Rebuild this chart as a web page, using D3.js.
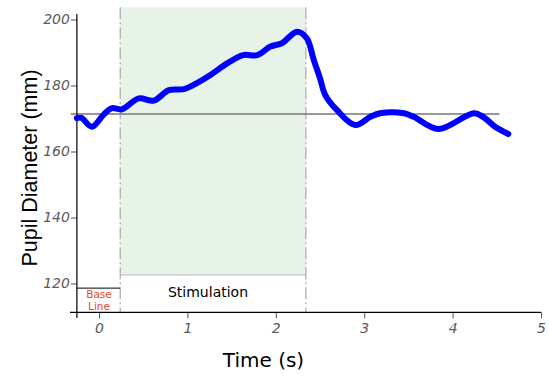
<!DOCTYPE html>
<html>
<head>
<meta charset="utf-8">
<script src="https://cdn.jsdelivr.net/npm/d3@7"></script>
<style>
  body { margin: 0; background: #fff; }
  .tick text { font-family: "DejaVu Sans", sans-serif; font-style: italic; fill: #5a5a5a; font-size: 14px; }
</style>
</head>
<body>
<div class="container"></div>
<script>
// pupil trace (time in s, diameter in mm)
var times = [-0.25, -0.2, -0.08, 0.05, 0.14, 0.26, 0.45, 0.62, 0.79, 0.96, 1.07, 1.26, 1.45, 1.63, 1.79, 1.94, 2.07, 2.24, 2.35, 2.43, 2.5, 2.56, 2.69, 2.9, 3.07, 3.18, 3.45, 3.56, 3.84, 4.24, 4.35, 4.48, 4.63];
var diameters = [170.1, 170.2, 167.5, 171.1, 173.1, 172.8, 176.1, 175.4, 178.6, 178.9, 180.2, 183.2, 186.7, 189.2, 189.2, 191.8, 192.8, 196.3, 194.3, 187.7, 182.2, 177.1, 172.6, 168.0, 170.5, 171.6, 171.6, 170.5, 166.8, 171.6, 170.4, 167.5, 165.3];

var xTicks = [0, 1, 2, 3, 4, 5];
var yTicks = [120, 140, 160, 180, 200];

var baselineMean = 171.4;
var baselineSpan = [-0.32, 4.53];
var stimSpan = [0.24, 2.34];
var baseBoxSpan = [-0.25, 0.24];

var width = 549, height = 378;

var x = d3.scaleLinear().domain([0, 5]).range([99, 541]);
var y = d3.scaleLinear().domain([120, 200]).range([283.5, 19.5]);

var axisY = 312.3;  // x-axis position (pixels)
var axisX = x(-0.25);

var svg = d3.select(".container")
    .append("svg")
    .attr("width", width)
    .attr("height", height);

// stimulation shading
svg.append("rect")
    .attr("x", x(stimSpan[0]))
    .attr("y", y(203.7))
    .attr("width", x(stimSpan[1]) - x(stimSpan[0]))
    .attr("height", y(122.6) - y(203.7))
    .attr("fill", "#e8f3e7");

// stimulation label box
svg.append("line")
    .attr("x1", x(stimSpan[0])).attr("x2", x(stimSpan[1]))
    .attr("y1", y(122.6)).attr("y2", y(122.6))
    .attr("stroke", "#bbb").attr("stroke-width", 1);

svg.selectAll(".stim-edge")
    .data(stimSpan)
    .enter().append("line")
    .attr("class", "stim-edge")
    .attr("x1", function(d) { return x(d); })
    .attr("x2", function(d) { return x(d); })
    .attr("y1", y(203.7))
    .attr("y2", axisY)
    .attr("stroke", "#aaa")
    .attr("stroke-width", 1.2)
    .attr("stroke-dasharray", "12,3,2,3");

svg.append("text")
    .attr("x", 208)
    .attr("y", 297)
    .attr("text-anchor", "middle")
    .style("font-family", "DejaVu Sans, sans-serif")
    .style("font-size", "14px")
    .text("Stimulation");

// base line box
svg.append("line")
    .attr("x1", x(baseBoxSpan[0])).attr("x2", x(baseBoxSpan[1]))
    .attr("y1", y(118.6)).attr("y2", y(118.6))
    .attr("stroke", "#000").attr("stroke-width", 1);

svg.append("text")
    .attr("x", x(0))
    .attr("y", 298)
    .attr("text-anchor", "middle")
    .style("font-family", "DejaVu Sans, sans-serif")
    .style("font-size", "10.5px")
    .attr("fill", "#e8491a")
    .selectAll("tspan")
    .data(["Base", "Line"])
    .enter().append("tspan")
    .attr("x", x(0))
    .attr("dy", function(d, i) { return i ? 12 : 0; })
    .text(function(d) { return d; });

// baseline mean
svg.append("line")
    .attr("x1", x(baselineSpan[0])).attr("x2", x(baselineSpan[1]))
    .attr("y1", y(baselineMean)).attr("y2", y(baselineMean))
    .attr("stroke", "#777").attr("stroke-width", 1.5);

// axes
var yAxis = svg.append("g")
    .attr("transform", "translate(" + axisX + ",0)")
    .call(d3.axisLeft(y).tickValues(yTicks).tickSize(6).tickPadding(1).tickFormat(d3.format("d")));
yAxis.select(".domain").remove();
yAxis.append("line")
    .attr("x1", 0).attr("x2", 0)
    .attr("y1", 14).attr("y2", 318)
    .attr("stroke", "#000").attr("stroke-width", 1.2);

var xAxis = svg.append("g")
    .attr("transform", "translate(0," + axisY + ")")
    .call(d3.axisBottom(x).tickValues(xTicks).tickSize(6).tickPadding(5).tickFormat(d3.format("d")));
xAxis.select(".domain").remove();
xAxis.append("line")
    .attr("x1", 70).attr("x2", 541)
    .attr("y1", 0).attr("y2", 0)
    .attr("stroke", "#000").attr("stroke-width", 1.2);
xAxis.selectAll(".tick line").attr("stroke", "#555");
yAxis.selectAll(".tick line").attr("stroke", "#555");

// pupil trace
var data = times.map(function(t, i) { return {t: t, d: diameters[i]}; });
var line = d3.line()
    .x(function(d) { return x(d.t); })
    .y(function(d) { return y(d.d); })
    .curve(d3.curveCatmullRom);

svg.append("path")
    .datum(data)
    .attr("fill", "none")
    .attr("stroke", "#0000ff")
    .attr("stroke-width", 6)
    .attr("stroke-linecap", "round")
    .attr("stroke-linejoin", "round")
    .attr("d", line);

// axis titles
svg.append("text")
    .attr("transform", "translate(37,168) rotate(-90)")
    .attr("text-anchor", "middle")
    .style("font-family", "Liberation Sans, Arial, sans-serif")
    .style("font-size", "21.5px")
    .text("Pupil Diameter (mm)");

svg.append("text")
    .attr("x", 263.5)
    .attr("y", 367)
    .attr("text-anchor", "middle")
    .style("font-family", "DejaVu Sans, sans-serif")
    .style("font-size", "20px")
    .text("Time (s)");
</script>
</body>
</html>
